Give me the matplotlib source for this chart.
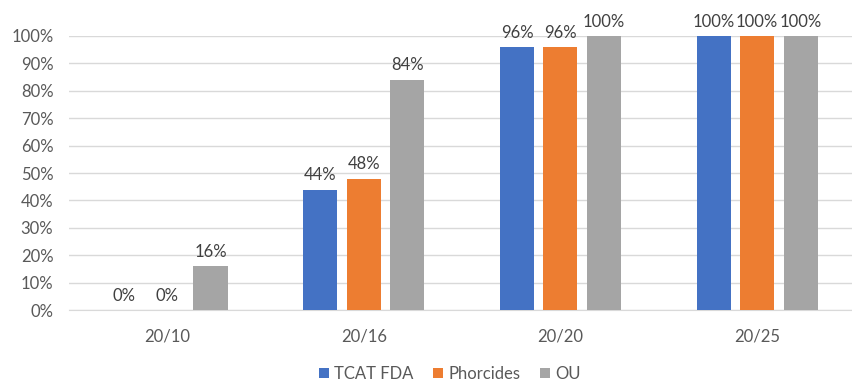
import numpy as np
import matplotlib.pyplot as plt

categories = ['20/10', '20/16', '20/20', '20/25']
tcat_fda = [0, 44, 96, 100]
phorcides = [0, 48, 96, 100]
ou = [16, 84, 100, 100]
series_names = ['TCAT FDA', 'Phorcides', 'OU']
colors = ['#4472C4', '#ED7D31', '#A5A5A5']

plt.rcParams['font.family'] = ['Lato', 'DejaVu Sans']

fig = plt.figure(figsize=(8.53, 3.82), dpi=100)
# plot area runs a bit past the right edge, as in the cropped reference
ax = fig.add_axes([0.0805, 0.188, 0.9225, 0.718])

x = np.arange(len(categories))
width = 0.173
pitch = 0.221
for i, (vals, name, c) in enumerate(zip([tcat_fda, phorcides, ou], series_names, colors)):
    pos = x + (i - 1) * pitch
    ax.bar(pos, vals, width=width, color=c, label=name, zorder=3)
    for p, v in zip(pos, vals):
        ax.text(p, v + 2.3, f'{v}%', ha='center', va='bottom',
                fontsize=12, color='#404040', zorder=4)

ax.set_xlim(-0.5, len(categories) - 0.5)
ax.set_ylim(0, 100)
ax.set_yticks(np.arange(0, 101, 10))
ax.set_yticklabels([f'{t}%' for t in range(0, 101, 10)])
ax.set_xticks(x)
ax.set_xticklabels(categories)
ax.yaxis.grid(True, color='#D9D9D9', linewidth=1, zorder=0)
ax.tick_params(axis='both', length=0, labelsize=12, labelcolor='#595959')
ax.tick_params(axis='x', pad=13)
ax.tick_params(axis='y', pad=11)
for s in ['top', 'right', 'left']:
    ax.spines[s].set_visible(False)
ax.spines['bottom'].set_color('#D9D9D9')

handles, labels = ax.get_legend_handles_labels()
leg = fig.legend(handles, labels, loc='center', bbox_to_anchor=(450 / 853, 1 - 374 / 382),
                 ncol=3, frameon=False, fontsize=12, handlelength=0.6, handleheight=0.6,
                 handletextpad=0.3, columnspacing=1.2)
for t in leg.get_texts():
    t.set_color('#595959')

fig.savefig('out.png', dpi=100)
